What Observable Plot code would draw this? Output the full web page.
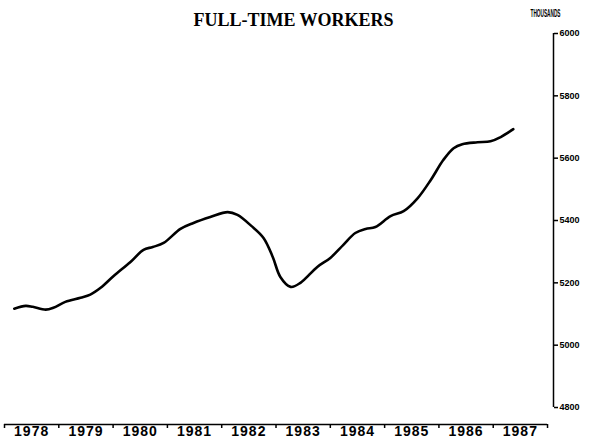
<!DOCTYPE html>
<html><head><meta charset="utf-8">
<script src="https://cdn.jsdelivr.net/npm/d3@7"></script>
<script src="https://cdn.jsdelivr.net/npm/@observablehq/plot@0.6"></script>
<style>body{margin:0;background:#fff}</style>
</head><body><div id="chart"></div>
<script>
const title = "FULL-TIME WORKERS";
const unitLabel = "THOUSANDS";
const times = [1978.18, 1978.39, 1978.52, 1978.76, 1978.90, 1979.12, 1979.40, 1979.58, 1979.77, 1980.01,
  1980.32, 1980.56, 1980.73, 1980.93, 1981.24, 1981.48, 1981.79, 1982.11, 1982.29, 1982.55,
  1982.77, 1982.94, 1983.08, 1983.27, 1983.45, 1983.76, 1984.00, 1984.24, 1984.46, 1984.65,
  1984.83, 1985.11, 1985.35, 1985.61, 1985.85, 1986.08, 1986.27, 1986.43, 1986.71, 1986.95,
  1987.13, 1987.37];
const workers = [5117, 5126, 5123, 5114, 5120, 5139, 5152, 5162, 5184, 5222,
  5267, 5306, 5315, 5328, 5373, 5392, 5411, 5427, 5418, 5382,
  5344, 5283, 5219, 5187, 5200, 5251, 5280, 5322, 5360, 5373,
  5379, 5414, 5430, 5472, 5530, 5594, 5632, 5645, 5651, 5654,
  5667, 5693];
const yTicks = [4800, 5000, 5200, 5400, 5600, 5800, 6000];
const yearTicks = [1978, 1979, 1980, 1981, 1982, 1983, 1984, 1985, 1986, 1987, 1988];
const yearLabels = [1978, 1979, 1980, 1981, 1982, 1983, 1984, 1985, 1986, 1987];

const data = times.map((t, i) => ({t, v: workers[i]}));
const xDomain = [1978, 1988.11];
const yDomain = [4745.5, 6000];
const sans = "Liberation Sans, Arial, sans-serif";

const chart = Plot.plot({
  width: 614, height: 447,
  marginLeft: 4, marginRight: 61, marginTop: 33, marginBottom: 23,
  x: {domain: xDomain, axis: null, label: null},
  y: {domain: yDomain, axis: null, label: null},
  style: {background: "white", color: "black"},
  marks: [
    Plot.ruleY([yDomain[0]], {x1: yearTicks[0], x2: yearTicks[yearTicks.length - 1], stroke: "black", strokeWidth: 1.5}),
    Plot.axisX({ticks: yearTicks, tickSize: 4, strokeWidth: 1.5, tickFormat: () => "", label: null}),
    Plot.axisX({ticks: yearLabels.map(y => y + 0.5), tickSize: 0, tickPadding: 2, label: null,
      tickFormat: d => String(Math.floor(d)), fontSize: 14, fontWeight: "bold", fontFamily: sans}),
    Plot.ruleX([xDomain[1]], {y1: yTicks[0], y2: yTicks[yTicks.length - 1], stroke: "black", strokeWidth: 1.5}),
    Plot.axisY({anchor: "right", ticks: yTicks, tickSize: 4, tickPadding: 2, strokeWidth: 1.5, label: null,
      tickFormat: d => String(d), fontSize: 9, fontWeight: "bold", fontFamily: sans}),
    Plot.line(data, {x: "t", y: "v", curve: "catmull-rom", stroke: "black", strokeWidth: 2.6}),
    Plot.text([title], {text: d => d, frameAnchor: "top", dx: 14.5, dy: -8, lineAnchor: "bottom",
      fontFamily: "Liberation Serif, Times New Roman, serif", fontWeight: "bold", fontSize: 18}),
    Plot.text([unitLabel], {text: d => d, frameAnchor: "top-right", dx: 7, dy: -17, lineAnchor: "bottom",
      fontSize: 10, fontWeight: "bold", fontFamily: sans})
  ]
});
document.getElementById("chart").appendChild(chart);
const svg = d3.select(chart);
svg.selectAll("text").filter(function() { return this.textContent === unitLabel; })
  .attr("textLength", 30).attr("lengthAdjust", "spacingAndGlyphs");
const labelSet = new Set(yearLabels.map(String));
svg.selectAll("text").filter(function() { return labelSet.has(this.textContent); })
  .style("letter-spacing", "1px");
</script>
</body></html>
